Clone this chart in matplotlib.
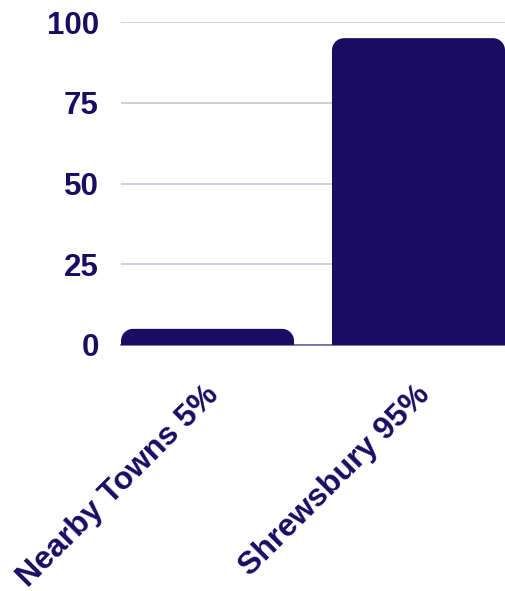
import matplotlib
matplotlib.use("Agg")
import matplotlib.pyplot as plt
from matplotlib.path import Path
from matplotlib.patches import PathPatch
from matplotlib.transforms import ScaledTranslation

categories = ["Nearby Towns 5%", "Shrewsbury 95%"]
values = [5, 95]
yticks = [0, 25, 50, 75, 100]

BAR = "#1b0c63"
TXT = "#1b0c63"
GRID = "#c9c5d9"

plt.rcParams['font.family'] = ['Liberation Sans', 'DejaVu Sans']

W, H = 506, 591
fig = plt.figure(figsize=(W / 100, H / 100), dpi=100)
L, R, T, B = 121, 505, 22, 345
ax = fig.add_axes([L / W, 1 - B / H, (R - L) / W, (B - T) / H])

xs = list(range(len(categories)))
bars = ax.bar(xs, values, width=0.82, color=BAR)
ax.set_xlim(-0.41, len(categories) - 1 + 0.41)
ax.set_ylim(0, 100)

# rounded top corners
fig.canvas.draw()
px_x = (R - L) / (ax.get_xlim()[1] - ax.get_xlim()[0])
px_y = (B - T) / 100.0
rad = 12
k = 0.5523
for b in bars:
    x0, w, h = b.get_x(), b.get_width(), b.get_height()
    rx = rad / px_x
    ry = min(rad / px_y, h)
    x1 = x0 + w
    verts = [
        (x0, 0), (x0, h - ry),
        (x0, h - ry + k * ry), (x0 + rx - k * rx, h), (x0 + rx, h),
        (x1 - rx, h),
        (x1 - rx + k * rx, h), (x1, h - ry + k * ry), (x1, h - ry),
        (x1, 0), (x0, 0),
    ]
    codes = [Path.MOVETO, Path.LINETO,
             Path.CURVE4, Path.CURVE4, Path.CURVE4,
             Path.LINETO,
             Path.CURVE4, Path.CURVE4, Path.CURVE4,
             Path.LINETO, Path.CLOSEPOLY]
    ax.add_patch(PathPatch(Path(verts, codes), facecolor=BAR, edgecolor='none', zorder=3))
    b.set_visible(False)

ax.set_yticks(yticks)
ax.set_yticklabels([str(v) for v in yticks], fontsize=22.5, fontweight='bold', color=TXT)
ax.yaxis.grid(True, color=GRID, linewidth=1.2)
ax.set_axisbelow(True)
ax.tick_params(axis='y', length=0, pad=16)
ax.tick_params(axis='x', length=0, pad=8)

ax.set_xticks(xs)
ax.set_xticklabels(categories, rotation=45, ha='right', va='center', rotation_mode='anchor',
                   fontsize=23, fontweight='bold', color=TXT)
off = ScaledTranslation(7 / 100, -34 / 100, fig.dpi_scale_trans)
for lbl in ax.get_xticklabels():
    lbl.set_transform(lbl.get_transform() + off)

for s in ['top', 'right', 'left']:
    ax.spines[s].set_visible(False)
ax.spines['bottom'].set_color('#6a60a8')
ax.spines['bottom'].set_linewidth(1.2)

fig.savefig("out.png", dpi=100)
